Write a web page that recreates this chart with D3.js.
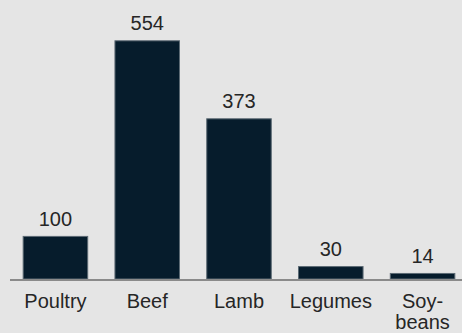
<!DOCTYPE html>
<html>
<head>
<meta charset="utf-8">
<script src="https://cdn.jsdelivr.net/npm/d3@7"></script>
<style>
  html, body { margin: 0; padding: 0; background: #e5e5e5; }
  svg { display: block; }
  text { font-family: "Liberation Sans", Arial, Helvetica, sans-serif; fill: #262626; }
</style>
</head>
<body>
<svg id="chart" width="462" height="333"></svg>
<script>
const categories = ["Poultry", "Beef", "Lamb", "Legumes", "Soy-\nbeans"];
const values = [100, 554, 373, 30, 14];
const valueLabels = ["100", "554", "373", "30", "14"];

const W = 462, H = 333;
const baseY = 279;
const svg = d3.select("#chart");

svg.append("rect").attr("width", W).attr("height", H).attr("fill", "#e5e5e5");

const x = d3.scaleBand()
  .domain(categories)
  .range([10, 468])
  .paddingInner(0.286)
  .paddingOuter(0.138);

const y = d3.scaleLinear()
  .domain([0, 554])
  .range([baseY, 40.3]);

// bars
svg.append("g").selectAll("rect")
  .data(values)
  .join("rect")
  .attr("x", (d, i) => x(categories[i]) + 0.5)
  .attr("y", d => y(d) + 0.5)
  .attr("width", x.bandwidth() - 1)
  .attr("height", d => baseY - y(d) - 0.5)
  .attr("fill", "#061c2c")
  .attr("stroke", "#5c6a74")
  .attr("stroke-width", 1);

// baseline axis
svg.append("line")
  .attr("x1", 10).attr("x2", W)
  .attr("y1", baseY + 1).attr("y2", baseY + 1)
  .attr("stroke", "#8a8a8a")
  .attr("stroke-width", 2);

// value labels
svg.append("g").selectAll("text")
  .data(values)
  .join("text")
  .attr("x", (d, i) => x(categories[i]) + x.bandwidth() / 2)
  .attr("y", d => y(d) - 10)
  .attr("text-anchor", "middle")
  .attr("font-size", 20)
  .text((d, i) => valueLabels[i]);

// category labels
const cat = svg.append("g").selectAll("text")
  .data(categories)
  .join("text")
  .attr("x", d => x(d) + x.bandwidth() / 2)
  .attr("y", baseY + 29)
  .attr("text-anchor", "middle")
  .attr("font-size", 20);

cat.each(function(d) {
  const lines = d.split("\n");
  const t = d3.select(this);
  lines.forEach((ln, j) => {
    t.append("tspan")
      .attr("x", x(d) + x.bandwidth() / 2)
      .attr("dy", j === 0 ? 0 : 21)
      .text(ln);
  });
});
</script>
</body>
</html>
